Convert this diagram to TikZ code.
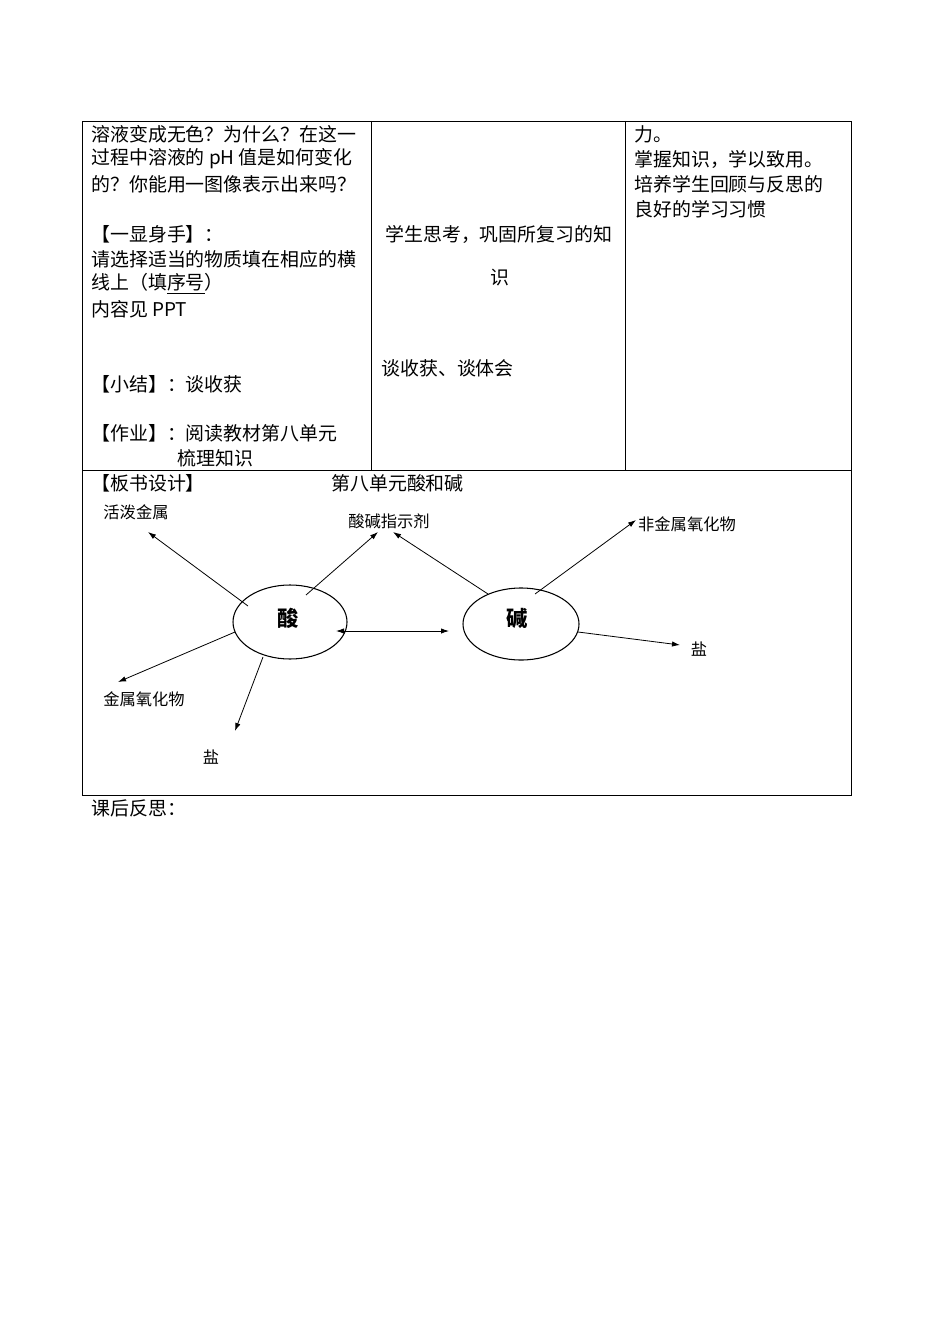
\documentclass[tikz,border=0pt]{standalone}
\usetikzlibrary{shapes.geometric,arrows.meta}
\usepackage{fontspec}
\setmainfont{Liberation Serif}
\newfontfamily\cjk{Noto Sans CJK SC}
\begin{document}
\begin{tikzpicture}[x=0.75pt,y=-0.75pt,
  txt/.style={anchor=west,inner sep=0,font=\cjk\fontsize{14.2}{16}\selectfont},
  lbl/.style={inner sep=0,font=\cjk\fontsize{12.2}{14}\selectfont},
  arr/.style={-{Latex[length=6pt,width=4pt]},line width=0.6pt},
  ell/.style={draw,ellipse,line width=0.8pt}]
\useasboundingbox (0,0) rectangle (950,1344);
\draw[line width=0.6pt] (82,121) rectangle (851,795);
\draw[line width=0.6pt] (82,470) -- (851,470) (371,121) -- (371,470) (625,121) -- (625,470);
% col 1
\node[txt] at (91,134) {溶液变成无色？为什么？在这一};
\node[txt] at (91,159) {过程中溶液的 pH 值是如何变化};
\node[txt] at (91,184) {的？你能用一图像表示出来吗？};
\node[txt] at (91,234) {【一显身手】：};
\node[txt] at (91,259) {请选择适当的物质填在相应的横};
\node[txt] at (91,284) {线上（填\underline{序号}）};
\node[txt] at (91,309) {内容见 PPT};
\node[txt] at (91,384) {【小结】：谈收获};
\node[txt] at (91,433) {【作业】：阅读教材第八单元};
\node[txt] at (177,458) {梳理知识};
% col 2
\node[txt] at (385,234) {学生思考，巩固所复习的知};
\node[txt] at (490,278) {识};
\node[txt] at (381,368) {谈收获、谈体会};
% col 3
\node[txt] at (634,134) {力。};
\node[txt] at (634,159) {掌握知识，学以致用。};
\node[txt] at (634,184) {培养学生回顾与反思的};
\node[txt] at (634,209) {良好的学习习惯};
% board
\node[txt] at (91,483) {【板书设计】};
\node[txt] at (331,483) {第八单元酸和碱};
\node[txt] at (91,808) {课后反思：};
\node[ell,minimum width=85.5pt,minimum height=55.5pt] (acid) at (290,622) {};
\node[font=\cjk\bfseries\fontsize{16}{18}\selectfont] at (288,618) {酸};
\node[ell,minimum width=87pt,minimum height=54pt] (base) at (521,624) {};
\node[font=\cjk\bfseries\fontsize{16}{18}\selectfont] at (517,618) {碱};
\node[lbl] (l1) at (136,512) {活泼金属};
\node[lbl] (l2) at (389,521) {酸碱指示剂};
\node[lbl] (l3) at (687,524) {非金属氧化物};
\node[lbl] (l4) at (699,649) {盐};
\node[lbl] (l5) at (144,699) {金属氧化物};
\node[lbl] (l6) at (211,757) {盐};
\coordinate (a1) at (148,532);\coordinate (a2) at (378,532);\coordinate (a3) at (393,532);
\coordinate (a4) at (636,520);\coordinate (a5) at (680,645);\coordinate (a6) at (118,682);
\coordinate (a7) at (235,731);
\draw[arr] (248,606) -- (a1);
\draw[arr] (306,595) -- (a2);
\draw[arr] (488,594) -- (a3);
\draw[arr] (535,594) -- (a4);
\draw[arr] (578,632) -- (a5);
\draw[arr] (235,632) -- (a6);
\draw[arr] (263,657) -- (a7);
\draw[arr,{Latex[length=6pt,width=4pt]}-{Latex[length=6pt,width=4pt]}] (336,631) -- (449,631);
\end{tikzpicture}
\end{document}
